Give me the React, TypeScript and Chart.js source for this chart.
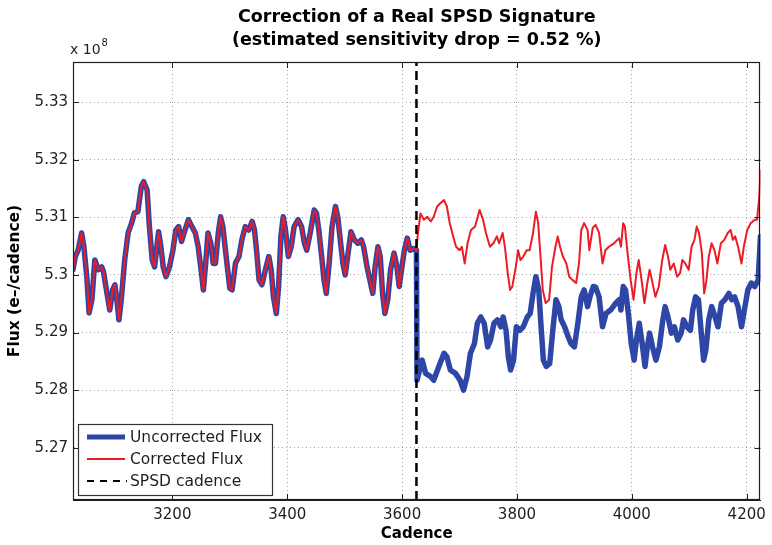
import React, { useEffect, useRef } from "react";
import { Chart, registerables } from "chart.js";

Chart.register(...registerables);

const FONT = "'DejaVu Sans', 'Liberation Sans', sans-serif";

// ---- Axis limits / ticks ----
const xMin = 3027;
const xMax = 4224;
const xTickValues = [3200, 3400, 3600, 3800, 4000, 4200];
const yMin = 5.2609;
const yMax = 5.337;
const yTickValues = [5.27, 5.28, 5.29, 5.3, 5.31, 5.32, 5.33];
const spsdCadence = 3625;

const titleLines = ["Correction of a Real SPSD Signature", "(estimated sensitivity drop = 0.52 %)"];
const xTitle = "Cadence";
const yTitle = "Flux (e\u2013/cadence)";
const legendLabels = ["Uncorrected Flux", "Corrected Flux", "SPSD cadence"];

// ---- Data (flux in units of 1e8 e-/cadence) ----
// Before the SPSD event both series coincide
const sharedCadence = [3027, 3031, 3036, 3042, 3046, 3051, 3055, 3060, 3065, 3071,
  3077, 3080, 3086, 3091, 3096, 3100, 3104, 3107, 3111, 3117,
  3123, 3129, 3134, 3140, 3146, 3150, 3156, 3160, 3165, 3169,
  3173, 3176, 3180, 3184, 3189, 3195, 3201, 3206, 3211, 3216,
  3221, 3228, 3234, 3240, 3245, 3250, 3254, 3258, 3262, 3267,
  3271, 3275, 3280, 3284, 3288, 3293, 3300, 3304, 3310, 3316,
  3321, 3327, 3333, 3339, 3343, 3347, 3351, 3356, 3362, 3368,
  3372, 3376, 3381, 3385, 3389, 3393, 3397, 3402, 3407, 3412,
  3419, 3425, 3430, 3434, 3440, 3447, 3451, 3455, 3460, 3464,
  3468, 3473, 3478, 3484, 3488, 3493, 3497, 3501, 3506, 3511,
  3517, 3523, 3529, 3533, 3539, 3545, 3549, 3553, 3558, 3562,
  3566, 3570, 3575, 3580, 3586, 3591, 3595, 3599, 3604, 3609,
  3614, 3620, 3625];
const sharedFlux = [5.3009, 5.3032, 5.3043, 5.3073, 5.3049, 5.2997, 5.2934, 5.2957, 5.3026, 5.3009,
  5.3014, 5.3006, 5.2969, 5.2939, 5.2974, 5.2983, 5.2951, 5.2922, 5.2957, 5.3026,
  5.3073, 5.3090, 5.3108, 5.3110, 5.3154, 5.3162, 5.3148, 5.3084, 5.3026, 5.3014,
  5.3049, 5.3075, 5.3049, 5.3014, 5.2997, 5.3014, 5.3043, 5.3078, 5.3084, 5.3058,
  5.3075, 5.3096, 5.3084, 5.3073, 5.3049, 5.3009, 5.2974, 5.3020, 5.3073, 5.3055,
  5.3020, 5.3020, 5.3073, 5.3101, 5.3084, 5.3038, 5.2977, 5.2974, 5.3021, 5.3032,
  5.3061, 5.3084, 5.3078, 5.3093, 5.3078, 5.3038, 5.2991, 5.2983, 5.3009, 5.3032,
  5.3009, 5.2962, 5.2933, 5.2980, 5.3067, 5.3101, 5.3078, 5.3032, 5.3049, 5.3084,
  5.3096, 5.3084, 5.3055, 5.3043, 5.3073, 5.3113, 5.3107, 5.3078, 5.3032, 5.2991,
  5.2968, 5.3020, 5.3084, 5.3119, 5.3101, 5.3055, 5.3020, 5.3000, 5.3038, 5.3075,
  5.3061, 5.3055, 5.3061, 5.3049, 5.3014, 5.2986, 5.2968, 5.3014, 5.3049, 5.3032,
  5.2968, 5.2933, 5.2957, 5.3009, 5.3038, 5.3014, 5.2980, 5.3009, 5.3043, 5.3064,
  5.3043, 5.3046, 5.3043];

// After the event: corrected flux
const correctedCadence = [3627, 3632, 3638, 3644, 3650, 3655, 3661, 3667, 3673, 3678,
  3683, 3689, 3694, 3700, 3704, 3709, 3714, 3720, 3727, 3735,
  3741, 3746, 3753, 3759, 3765, 3769, 3775, 3779, 3784, 3788,
  3792, 3798, 3802, 3806, 3811, 3817, 3822, 3828, 3833, 3837,
  3841, 3845, 3850, 3856, 3861, 3867, 3871, 3875, 3880, 3886,
  3891, 3897, 3903, 3908, 3912, 3917, 3923, 3926, 3932, 3937,
  3943, 3949, 3954, 3960, 3969, 3978, 3981, 3985, 3988, 3992,
  3998, 4003, 4008, 4012, 4017, 4022, 4027, 4031, 4035, 4041,
  4047, 4053, 4058, 4063, 4067, 4073, 4079, 4084, 4088, 4093,
  4099, 4104, 4109, 4113, 4117, 4122, 4126, 4130, 4134, 4139,
  4144, 4149, 4155, 4161, 4167, 4172, 4176, 4180, 4185, 4191,
  4195, 4201, 4207, 4214, 4218, 4222, 4224];
const correctedFlux = [5.3067, 5.3107, 5.3096, 5.3101, 5.3093, 5.3101, 5.3119, 5.3125, 5.3130, 5.3119,
  5.3090, 5.3067, 5.3049, 5.3043, 5.3049, 5.3020, 5.3055, 5.3078, 5.3084, 5.3113,
  5.3096, 5.3073, 5.3049, 5.3055, 5.3067, 5.3055, 5.3073, 5.3049, 5.3003, 5.2974,
  5.2980, 5.3014, 5.3043, 5.3026, 5.3032, 5.3043, 5.3043, 5.3073, 5.3110, 5.3090,
  5.3032, 5.2974, 5.2951, 5.2957, 5.3014, 5.3049, 5.3067, 5.3049, 5.3032, 5.3020,
  5.2997, 5.2991, 5.2986, 5.3020, 5.3078, 5.3090, 5.3078, 5.3043, 5.3082, 5.3087,
  5.3073, 5.3020, 5.3043, 5.3049, 5.3055, 5.3064, 5.3049, 5.3090, 5.3084, 5.3043,
  5.2991, 5.2957, 5.3003, 5.3026, 5.2991, 5.2951, 5.2986, 5.3009, 5.2991, 5.2962,
  5.2980, 5.3026, 5.3052, 5.3032, 5.3009, 5.3020, 5.2997, 5.3003, 5.3026, 5.3020,
  5.3009, 5.3049, 5.3061, 5.3084, 5.3073, 5.3038, 5.2968, 5.2991, 5.3032, 5.3055,
  5.3043, 5.3020, 5.3055, 5.3061, 5.3073, 5.3078, 5.3061, 5.3067, 5.3049, 5.3020,
  5.3049, 5.3078, 5.3090, 5.3096, 5.3096, 5.3136, 5.3183];

// After the event: uncorrected flux
const uncorrectedCadence = [3626, 3635, 3641, 3650, 3655, 3664, 3673, 3678, 3684, 3693,
  3701, 3707, 3713, 3719, 3726, 3731, 3737, 3743, 3749, 3754,
  3760, 3766, 3772, 3776, 3781, 3785, 3789, 3794, 3799, 3805,
  3811, 3818, 3823, 3828, 3833, 3838, 3842, 3846, 3851, 3857,
  3863, 3868, 3873, 3877, 3883, 3889, 3894, 3900, 3906, 3912,
  3917, 3923, 3927, 3933, 3937, 3943, 3949, 3955, 3963, 3972,
  3978, 3981, 3985, 3989, 3994, 3999, 4004, 4008, 4013, 4018,
  4023, 4027, 4031, 4036, 4042, 4048, 4054, 4058, 4063, 4069,
  4074, 4080, 4086, 4090, 4096, 4102, 4106, 4111, 4116, 4120,
  4125, 4129, 4134, 4139, 4145, 4150, 4156, 4162, 4169, 4174,
  4179, 4185, 4191, 4197, 4202, 4208, 4214, 4220, 4224];
const uncorrectedFlux = [5.2817, 5.2852, 5.2829, 5.2823, 5.2817, 5.2841, 5.2864, 5.2858, 5.2835, 5.2829,
  5.2817, 5.2800, 5.2823, 5.2864, 5.2881, 5.2916, 5.2927, 5.2916, 5.2875, 5.2887,
  5.2916, 5.2922, 5.2910, 5.2927, 5.2904, 5.2858, 5.2835, 5.2852, 5.2910, 5.2904,
  5.2910, 5.2927, 5.2933, 5.2968, 5.2997, 5.2974, 5.2910, 5.2852, 5.2841, 5.2846,
  5.2910, 5.2957, 5.2945, 5.2922, 5.2910, 5.2893, 5.2881, 5.2875, 5.2916, 5.2962,
  5.2974, 5.2945, 5.2962, 5.2980, 5.2979, 5.2962, 5.2910, 5.2933, 5.2939, 5.2951,
  5.2957, 5.2939, 5.2980, 5.2974, 5.2933, 5.2881, 5.2852, 5.2887, 5.2916, 5.2881,
  5.2841, 5.2875, 5.2899, 5.2875, 5.2852, 5.2875, 5.2922, 5.2945, 5.2927, 5.2899,
  5.2910, 5.2887, 5.2899, 5.2922, 5.2910, 5.2904, 5.2939, 5.2962, 5.2957, 5.2910,
  5.2852, 5.2870, 5.2922, 5.2945, 5.2927, 5.2910, 5.2951, 5.2957, 5.2968, 5.2957,
  5.2962, 5.2945, 5.2910, 5.2945, 5.2974, 5.2986, 5.2980, 5.2991, 5.3067];

const BLUE = "#2E47A7";
const RED = "#EC1C26";
const INK = "#1f1f1f";

function zip(xs: number[], ys: number[]) {
  const n = Math.min(xs.length, ys.length);
  const out: { x: number; y: number }[] = [];
  for (let i = 0; i < n; i++) out.push({ x: xs[i], y: ys[i] });
  return out;
}

export default function App() {
  const canvasRef = useRef<HTMLCanvasElement | null>(null);

  useEffect(() => {
    const canvas = canvasRef.current;
    if (!canvas) return;

    const uncorrected = [...zip(sharedCadence, sharedFlux), ...zip(uncorrectedCadence, uncorrectedFlux)];
    const corrected = [...zip(sharedCadence, sharedFlux), ...zip(correctedCadence, correctedFlux)];
    const spsd = [{ x: spsdCadence, y: yMin }, { x: spsdCadence, y: yMax }];

    const framePlugin = {
      id: "matlabFrame",
      afterDatasetsDraw(chart: any) {
        const { ctx, chartArea, scales } = chart;
        const { left, right, top, bottom } = chartArea;
        const xs = scales.x;
        const ys = scales.y;
        ctx.save();
        // inward tick marks on all four sides
        ctx.strokeStyle = INK;
        ctx.lineWidth = 1;
        ctx.setLineDash([]);
        const L = 6;
        ctx.beginPath();
        xs.ticks.forEach((t: any) => {
          const px = Math.round(xs.getPixelForValue(t.value)) + 0.5;
          ctx.moveTo(px, bottom);
          ctx.lineTo(px, bottom - L);
          ctx.moveTo(px, top);
          ctx.lineTo(px, top + L);
        });
        ys.ticks.forEach((t: any) => {
          const py = Math.round(ys.getPixelForValue(t.value)) + 0.5;
          ctx.moveTo(left, py);
          ctx.lineTo(left + L, py);
          ctx.moveTo(right, py);
          ctx.lineTo(right - L, py);
        });
        ctx.stroke();
        // box
        ctx.lineWidth = 1.2;
        ctx.strokeRect(Math.round(left) + 0.5, Math.round(top) + 0.5, Math.round(right - left) - 1, Math.round(bottom - top) - 1);

        // legend box
        const lx = left + 5;
        const ly = bottom - 76;
        const lw = 194;
        const lh = 71;
        ctx.fillStyle = "#ffffff";
        ctx.fillRect(lx, ly, lw, lh);
        ctx.strokeStyle = "#333333";
        ctx.lineWidth = 1.2;
        ctx.strokeRect(lx + 0.5, ly + 0.5, lw, lh);
        const rows = [ly + 13, ly + 35, ly + 57];
        const x0 = lx + 9;
        const x1 = lx + 47;
        ctx.lineCap = "butt";
        ctx.strokeStyle = BLUE;
        ctx.lineWidth = 5;
        ctx.beginPath(); ctx.moveTo(x0, rows[0]); ctx.lineTo(x1, rows[0]); ctx.stroke();
        ctx.strokeStyle = RED;
        ctx.lineWidth = 2;
        ctx.beginPath(); ctx.moveTo(x0, rows[1]); ctx.lineTo(x1, rows[1]); ctx.stroke();
        ctx.strokeStyle = "#000";
        ctx.lineWidth = 2;
        ctx.setLineDash([7, 6]);
        ctx.beginPath(); ctx.moveTo(x0, rows[2]); ctx.lineTo(x1 + 2, rows[2]); ctx.stroke();
        ctx.setLineDash([]);
        ctx.fillStyle = INK;
        ctx.font = `15.5px ${FONT}`;
        ctx.textAlign = "left";
        ctx.textBaseline = "middle";
        legendLabels.forEach((lab, i) => ctx.fillText(lab, lx + 52, rows[i] + 1));

        // exponent label
        ctx.textBaseline = "alphabetic";
        ctx.font = `14px ${FONT}`;
        const base = "x 10";
        ctx.fillText(base, left - 3, top - 8);
        const w = ctx.measureText(base).width;
        ctx.font = `10px ${FONT}`;
        ctx.fillText("8", left - 3 + w + 1, top - 16);
        ctx.restore();
      },
    };

    const chart = new Chart(canvas, {
      type: "line",
      data: {
        datasets: [
          {
            label: legendLabels[2],
            data: spsd,
            borderColor: "#000000",
            borderWidth: 2.5,
            borderDash: [9, 5],
            pointRadius: 0,
            order: 0,
            clip: 0,
          },
          {
            label: legendLabels[1],
            data: corrected,
            borderColor: RED,
            borderWidth: 2,
            pointRadius: 0,
            tension: 0,
            borderJoinStyle: "round",
            order: 1,
            clip: 0,
          },
          {
            label: legendLabels[0],
            data: uncorrected,
            borderColor: BLUE,
            borderWidth: 5.5,
            pointRadius: 0,
            tension: 0,
            borderJoinStyle: "round",
            borderCapStyle: "round",
            order: 2,
            clip: 0,
          },
        ],
      },
      options: {
        responsive: false,
        animation: false,
        devicePixelRatio: 1,
        layout: { padding: { left: 0, right: 6, top: 0, bottom: 0 } },
        plugins: {
          legend: { display: false },
          tooltip: { enabled: false },
          title: {
            display: true,
            fullSize: false,
            text: titleLines,
            color: "#000",
            font: { family: FONT, size: 17.5, weight: "bold", lineHeight: 1.32 },
            padding: { top: 6, bottom: 9.8 },
          },
        },
        scales: {
          x: {
            type: "linear",
            min: xMin,
            max: xMax,
            afterFit: (s: any) => { s.height = 45; },
            afterBuildTicks: (s: any) => { s.ticks = xTickValues.map((v) => ({ value: v })); },
            ticks: {
              autoSkip: false,
              maxRotation: 0,
              padding: 6,
              color: INK,
              font: { family: FONT, size: 15 },
              callback: (v: any) => String(v),
            },
            grid: { color: "#a8a8a8", lineWidth: 1, drawTicks: false },
            border: { display: true, color: INK, dash: [1, 3] },
            title: {
              display: true,
              text: xTitle,
              color: "#000",
              font: { family: FONT, size: 15, weight: "bold", lineHeight: 1.2 },
              padding: { top: 0, bottom: 2 },
            },
          },
          y: {
            type: "linear",
            min: yMin,
            max: yMax,
            afterFit: (s: any) => { s.width = 73; },
            afterBuildTicks: (s: any) => { s.ticks = yTickValues.map((v) => ({ value: v })); },
            ticks: {
              autoSkip: false,
              padding: 5,
              color: INK,
              font: { family: FONT, size: 15 },
              callback: (v: any) => String(Number(Number(v).toFixed(2))),
            },
            grid: { color: "#a8a8a8", lineWidth: 1, drawTicks: false },
            border: { display: true, color: INK, dash: [1, 3] },
            title: {
              display: true,
              text: yTitle,
              color: "#000",
              font: { family: FONT, size: 15.5, weight: "bold", lineHeight: 1.2 },
              padding: { top: 6, bottom: 0 },
            },
          },
        },
      },
      plugins: [framePlugin],
    } as any);

    return () => chart.destroy();
  }, []);

  return (
    <div style={{ position: "absolute", left: 0, top: 0, width: 772, height: 545, background: "#fff" }}>
      <canvas ref={canvasRef} width={772} height={545} style={{ display: "block" }} />
    </div>
  );
}
